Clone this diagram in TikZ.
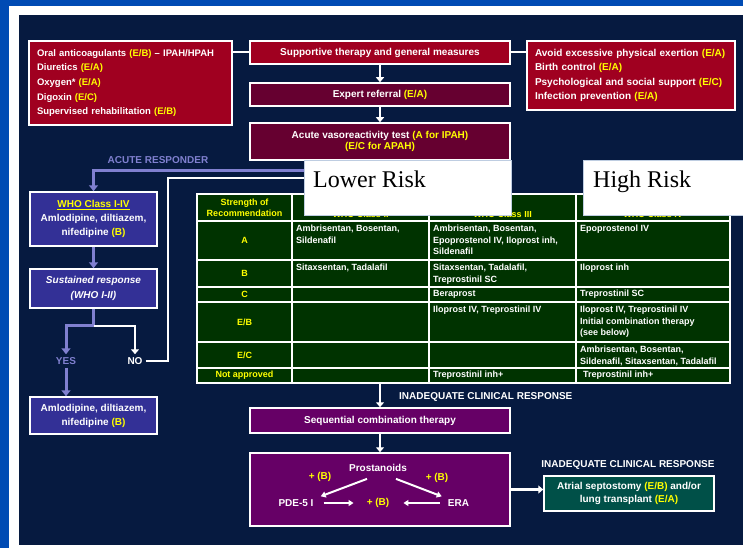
\documentclass[tikz,border=0pt]{standalone}
\usepackage{fontspec}
\setmainfont{Liberation Sans}
\newfontfamily\riskfont{Liberation Serif}
\usepackage{tikz}
\usetikzlibrary{arrows.meta}
\definecolor{navy}{RGB}{6,26,64}
\definecolor{frameblue}{RGB}{0,75,180}
\definecolor{boxred}{RGB}{160,0,32}
\definecolor{boxmaroon}{RGB}{102,0,48}
\definecolor{boxplum}{RGB}{102,0,102}
\definecolor{whoviolet}{RGB}{51,48,150}
\definecolor{lavender}{RGB}{128,128,208}
\definecolor{tabgreen}{RGB}{0,51,0}
\definecolor{atrialteal}{RGB}{0,80,72}
\definecolor{evyellow}{RGB}{255,255,0}
\definecolor{riskedge}{RGB}{190,205,225}
\newcommand{\ev}[1]{\textcolor{evyellow}{#1}}

\begin{document}
\begin{tikzpicture}[x=1pt,y=-1pt,
    every node/.style={text=white,inner sep=0pt,font=\bfseries\fontsize{10}{14.5}\selectfont},
    box/.style={draw=white,line width=1.5pt,align=center},
    warr/.style={white,line width=2.5pt,-{Triangle[width=8pt,length=5pt]}},
    larr/.style={lavender,line width=3pt,-{Triangle[width=9pt,length=6pt]}},
    wline/.style={white,line width=2pt},
    lline/.style={lavender,line width=3pt},
    iarr/.style={white,line width=2pt,-{Triangle[width=6pt,length=5pt]}},
    cell/.style={anchor=north west,align=left,font=\bfseries\fontsize{9}{11.5}\selectfont},
    grade/.style={text=evyellow,align=center,font=\bfseries\fontsize{9}{11}\selectfont},
    riskbox/.style={draw=riskedge,fill=white,line width=0.8pt,minimum height=55pt},
    risklabel/.style={text=black,anchor=base west,font=\riskfont\mdseries\fontsize{24}{24}\selectfont}
  ]
  \useasboundingbox (0,0) rectangle (743,548);
  \fill[frameblue] (0,0) rectangle (743,548);
  \fill[white] (9,6) rectangle (743,548);
  \fill[navy] (19,15) rectangle (743,545);

  % supportive therapy
  \node[box,fill=boxred,minimum width=203pt,minimum height=84pt,text width=187pt,align=left,
        font=\bfseries\fontsize{9.5}{14.7}\selectfont] (oral) at (130.5,83)
    {Oral anticoagulants \ev{(E/B)} -- IPAH/HPAH\\Diuretics \ev{(E/A)}\\Oxygen* \ev{(E/A)}\\Digoxin \ev{(E/C)}\\Supervised rehabilitation \ev{(E/B)}};
  \node[box,fill=boxred,minimum width=260pt,minimum height=23pt] (supp) at (380,52.5) {Supportive therapy and general measures};
  \node[box,fill=boxred,minimum width=208pt,minimum height=69pt,text width=192pt,align=left] (general) at (631,75.5)
    {Avoid excessive physical exertion \ev{(E/A)}\\Birth control \ev{(E/A)}\\Psychological and social support \ev{(E/C)}\\Infection prevention \ev{(E/A)}};
  \node[box,fill=boxmaroon,minimum width=260pt,minimum height=23pt] (expert) at (380,94.5) {Expert referral \ev{(E/A)}};
  \node[box,fill=boxmaroon,minimum width=260pt,minimum height=37pt,font=\bfseries\fontsize{10}{11.5}\selectfont] (acute) at (380,141.5)
    {Acute vasoreactivity test \ev{(A for IPAH)}\\\ev{(E/C for APAH)}};

  % acute responders
  \node[text=lavender] (resp) at (158,160) {ACUTE RESPONDER};
  \node[box,fill=whoviolet,minimum width=127pt,minimum height=54pt,font=\bfseries\fontsize{10}{14}\selectfont] (who) at (93.5,219)
    {\ev{\underline{WHO Class I-IV}}\\Amlodipine, diltiazem,\\nifedipine \ev{(B)}};
  \node[box,fill=whoviolet,minimum width=127pt,minimum height=39pt,font=\bfseries\itshape\fontsize{10}{15}\selectfont] (sust) at (93.5,288.5)
    {Sustained response\\(WHO I-II)};
  \node[text=lavender,inner sep=3pt] (yes) at (66,361) {YES};
  \node[inner sep=3pt] (no) at (135,361) {NO};
  \node[box,fill=whoviolet,minimum width=127pt,minimum height=37pt,font=\bfseries\fontsize{10}{14}\selectfont] (amlo) at (93.5,415.5)
    {Amlodipine, diltiazem,\\nifedipine \ev{(B)}};

  \draw[wline] (oral.east |- supp.west) -- (supp.west);
  \draw[wline] (supp.east) -- (supp.east -| general.west);
  \draw[warr] (supp) -- (expert);
  \draw[warr] (expert) -- (acute);
  \draw[larr] (acute.south) -- ++(0,10) -| (who.north);
  \draw[larr] (who) -- (sust);
  \draw[lline] (sust.south) -- ++(0,17) coordinate (split);
  \draw[larr] (split) -| (yes);
  \draw[warr] (split) -| (no);
  \draw[larr] (yes) -- (yes |- amlo.north);
  \coordinate (noturn) at (168,178);
  \coordinate (noend) at (330,178);
  \draw[wline] (no.east) -| (noturn) -- (noend);

  % table
  \node[fill=tabgreen,draw=white,line width=1.2pt,minimum width=533pt,minimum height=189pt] (table) at (463.5,288.5) {};
  \foreach \y in {221,260,287,302,342,368}
    \draw[white,line width=1.2pt] (197,\y) -- (730,\y);
  \foreach \x in {292,429,576}
    \draw[white,line width=1.2pt] (\x,194) -- (\x,383);
  \node[grade] (strength) at (244.5,208) {Strength of\\Recommendation};
  \foreach \g/\y/\n in {A/240.5/ga,B/273.5/gb,C/294.5/gc,{E/B}/322/geb,{E/C}/355/gec,{Not approved}/375.5/gna}
    \node[grade] (\n) at (244.5,\y) {\g};
  \begin{scope}
    \clip (292,211) rectangle (730,221);
    \node[grade] (h2) at (360.5,214.5) {WHO Class II};
    \node[grade] (h3) at (502.5,214.5) {WHO Class III};
    \node[grade] (h4) at (653,214.5) {WHO Class IV};
  \end{scope}
  \node[cell] (a2) at (296,225) {Ambrisentan, Bosentan,\\Sildenafil};
  \node[cell] (a3) at (433,225) {Ambrisentan, Bosentan,\\Epoprostenol IV, Iloprost inh,\\Sildenafil};
  \node[cell] (a4) at (580,225) {Epoprostenol IV};
  \node[cell] (b2) at (296,264) {Sitaxsentan, Tadalafil};
  \node[cell] (b3) at (433,264) {Sitaxsentan, Tadalafil,\\Treprostinil SC};
  \node[cell] (b4) at (580,264) {Iloprost inh};
  \node[cell] (c3) at (433,290) {Beraprost};
  \node[cell] (c4) at (580,290) {Treprostinil SC};
  \node[cell] (eb3) at (433,306) {Iloprost IV, Treprostinil IV};
  \node[cell] (eb4) at (580,306) {Iloprost IV, Treprostinil IV\\Initial combination therapy\\(see below)};
  \node[cell] (ec4) at (580,346) {Ambrisentan, Bosentan,\\Sildenafil, Sitaxsentan, Tadalafil};
  \node[cell] (na3) at (433,371) {Treprostinil inh+};
  \node[cell] (na4) at (583,371) {Treprostinil inh+};

  \node[riskbox,minimum width=207pt] (lowbox) at (407.5,187.5) {};
  \node[risklabel] (lowtxt) at (313,187) {Lower Risk};
  \node[riskbox,minimum width=165pt] (highbox) at (665.5,187.5) {};
  \node[risklabel] (hightxt) at (593,187) {High Risk};

  % combination therapy
  \node[anchor=west] (inad1) at (399,397) {INADEQUATE CLINICAL RESPONSE};
  \node[box,fill=boxplum,minimum width=260pt,minimum height=25pt] (seq) at (380,420.5) {Sequential combination therapy};
  \node[box,fill=boxplum,minimum width=260pt,minimum height=73pt] (combo) at (380,489.5) {};
  \node (prost) at (378,468) {Prostanoids};
  \node[text=evyellow] (plusl) at (320,477) {+ (B)};
  \node[text=evyellow] (plusr) at (437,478) {+ (B)};
  \node[text=evyellow] (plusm) at (378,503) {+ (B)};
  \node (pde) at (296,503) {PDE-5 I};
  \node (era) at (458.5,503) {ERA};
  \node (inad2) at (628,465) {INADEQUATE CLINICAL RESPONSE};
  \node[box,fill=atrialteal,minimum width=170pt,minimum height=35pt,font=\bfseries\fontsize{10}{13}\selectfont] (atrial) at (629,493.5)
    {Atrial septostomy \ev{(E/B)} and/or\\lung transplant \ev{(E/A)}};

  \draw[warr] (table.south -| seq) -- (seq);
  \draw[warr] (seq) -- (combo);
  \draw[warr] (combo.east) -- (combo.east -| atrial.west);
  \draw[iarr] ([xshift=-11pt,yshift=-7pt]prost.south) -- ([xshift=7pt,yshift=3pt]pde.north east);
  \draw[iarr] ([xshift=18pt,yshift=-7pt]prost.south) -- ([xshift=-6pt,yshift=3pt]era.north west);
  \draw[iarr,shorten <=10pt,shorten >=13pt] (pde) -- (plusm);
  \draw[iarr,shorten <=8pt,shorten >=14pt] (era) -- (plusm);
\end{tikzpicture}
\end{document}
